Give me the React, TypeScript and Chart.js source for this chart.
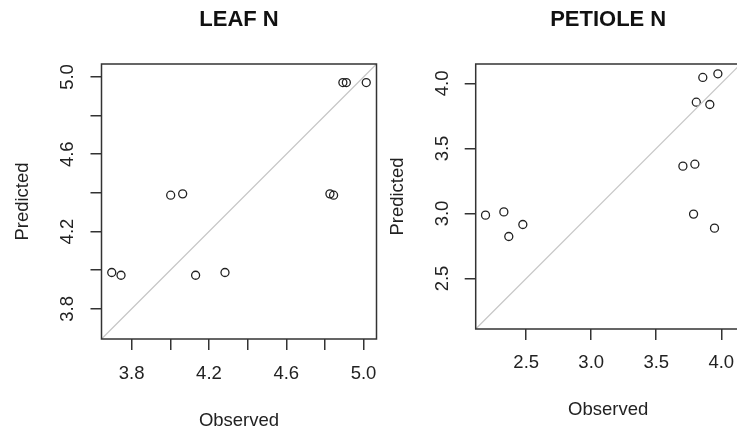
import { useEffect, useRef } from "react";
import { Chart, registerables } from "chart.js";

Chart.register(...registerables);

// ---- data ----
const leafObserved = [3.697, 3.745, 4.002, 4.064, 4.131, 4.283, 4.826, 4.845, 4.893, 4.911, 5.014];
const leafPredicted = [3.988, 3.974, 4.388, 4.395, 3.974, 3.988, 4.395, 4.388, 4.971, 4.971, 4.971];
const leafTicks = [3.8, 4.0, 4.2, 4.4, 4.6, 4.8, 5.0];
const leafTickLabels = ["3.8", "", "4.2", "", "4.6", "", "5.0"];
const leafRange = [3.644, 5.067];

const petioleObserved = [2.187, 2.328, 2.366, 2.474, 3.705, 3.797, 3.787, 3.948, 3.808, 3.912, 3.858, 3.974];
const petiolePredicted = [2.987, 3.012, 2.823, 2.915, 3.364, 3.379, 2.995, 2.887, 3.856, 3.838, 4.046, 4.074];
const petioleTicks = [2.5, 3.0, 3.5, 4.0];
const petioleTickLabels = ["2.5", "3.0", "3.5", "4.0"];
const petioleRange = [2.1115, 4.1495];

const FONT = "'Liberation Sans', Arial, Helvetica, sans-serif";
const TEXT = "#222";
const INK = "#333";

const boxPlugin = {
  id: "rbox",
  afterDatasetsDraw(chart: any) {
    const { ctx, chartArea: a } = chart;
    ctx.save();
    ctx.strokeStyle = INK;
    ctx.lineWidth = 1.5;
    ctx.strokeRect(a.left, a.top, a.right - a.left, a.bottom - a.top);
    ctx.restore();
  },
};

type Panel = {
  title: string;
  obs: number[];
  pred: number[];
  ticks: number[];
  labels: string[];
  range: number[];
  canvasLeft: number;
  canvasWidth: number;
  areaLeft: number;
  areaRight: number;
  areaTop: number;
  areaBottom: number;
  titleCenterY: number;
  xTickPad: number;
  yTickPad: number;
  xTitlePad: number;
  yTitlePad: number;
};

const H = 432;

function makeScale(p: Panel, axis: "x" | "y") {
  const tickLabel = (value: number) => {
    const i = p.ticks.findIndex((t) => Math.abs(t - value) < 1e-6);
    return i >= 0 ? p.labels[i] : "";
  };
  const base: any = {
    type: "linear",
    min: p.range[0],
    max: p.range[1],
    afterBuildTicks: (s: any) => {
      s.ticks = p.ticks.map((v) => ({ value: v }));
    },
    grid: {
      display: true,
      drawOnChartArea: false,
      drawTicks: true,
      tickLength: 11,
      tickColor: INK,
      tickWidth: 1.5,
      lineWidth: 1.5,
      color: INK,
    },
    border: { display: false },
    title: {
      display: true,
      text: axis === "x" ? "Observed" : "Predicted",
      color: TEXT,
      font: { family: FONT, size: 18.5, weight: "normal" },
    },
    ticks: {
      autoSkip: false,
      color: TEXT,
      font: { family: FONT, size: 18.5 },
      callback: (v: any) => tickLabel(Number(v)),
    },
  };
  if (axis === "x") {
    base.position = "bottom";
    base.ticks.maxRotation = 0;
    base.ticks.minRotation = 0;
    base.ticks.padding = p.xTickPad;
    base.title.padding = { top: 0, bottom: p.xTitlePad };
    base.afterFit = (s: any) => {
      s.height = H - p.areaBottom;
    };
  } else {
    base.position = "left";
    base.ticks.minRotation = 90;
    base.ticks.maxRotation = 90;
    base.ticks.crossAlign = "center";
    base.ticks.padding = p.yTickPad;
    base.title.padding = { top: p.yTitlePad, bottom: 0 };
    base.afterFit = (s: any) => {
      s.width = p.areaLeft - p.canvasLeft;
    };
  }
  return base;
}

function makeConfig(p: Panel): any {
  const titleLH = 22 * 1.2;
  const tPadTop = p.titleCenterY - titleLH / 2;
  const tPadBottom = p.areaTop - tPadTop - titleLH;
  return {
    type: "scatter",
    data: {
      datasets: [
        {
          type: "line",
          data: [
            { x: p.range[0], y: p.range[0] },
            { x: p.range[1], y: p.range[1] },
          ],
          borderColor: "#c6c6c6",
          borderWidth: 1.2,
          pointRadius: 0,
          showLine: true,
          fill: false,
        },
        {
          type: "scatter",
          data: p.obs.map((x, i) => ({ x, y: p.pred[i] })),
          pointStyle: "circle",
          pointRadius: 4,
          pointBorderWidth: 1.3,
          borderColor: "#222",
          backgroundColor: "rgba(0,0,0,0)",
          pointBackgroundColor: "rgba(0,0,0,0)",
          pointBorderColor: "#222",
        },
      ],
    },
    options: {
      responsive: false,
      animation: false,
      events: [],
      layout: {
        padding: {
          left: 0,
          top: 0,
          bottom: 0,
          right: p.canvasLeft + p.canvasWidth - p.areaRight,
        },
      },
      plugins: {
        legend: { display: false },
        tooltip: { enabled: false },
        title: {
          display: true,
          text: p.title,
          fullSize: false,
          color: "#111",
          font: { family: FONT, size: 22, weight: "bold", lineHeight: 1.2 },
          padding: { top: tPadTop, bottom: tPadBottom },
        },
      },
      scales: {
        x: makeScale(p, "x"),
        y: makeScale(p, "y"),
      },
    },
    plugins: [boxPlugin],
  };
}

const leafPanel: Panel = {
  title: "LEAF N",
  obs: leafObserved,
  pred: leafPredicted,
  ticks: leafTicks,
  labels: leafTickLabels,
  range: leafRange,
  canvasLeft: 0,
  canvasWidth: 400,
  areaLeft: 101.5,
  areaRight: 376.5,
  areaTop: 64,
  areaBottom: 339,
  titleCenterY: 19.5,
  xTickPad: 12.6,
  yTickPad: 10.1,
  xTitlePad: 0.1,
  yTitlePad: 11.6,
};

const petiolePanel: Panel = {
  title: "PETIOLE N",
  obs: petioleObserved,
  pred: petiolePredicted,
  ticks: petioleTicks,
  labels: petioleTickLabels,
  range: petioleRange,
  canvasLeft: 370,
  canvasWidth: 400,
  areaLeft: 475.7,
  areaRight: 740.7,
  areaTop: 64,
  areaBottom: 329,
  titleCenterY: 20,
  xTickPad: 11.6,
  yTickPad: 9.3,
  xTitlePad: 11.1,
  yTitlePad: 17.1,
};

function PanelChart({ panel }: { panel: Panel }) {
  const ref = useRef<HTMLCanvasElement | null>(null);
  useEffect(() => {
    if (!ref.current) return;
    const chart = new Chart(ref.current, makeConfig(panel));
    return () => chart.destroy();
  }, [panel]);
  return (
    <canvas
      ref={ref}
      width={panel.canvasWidth}
      height={H}
      style={{
        position: "absolute",
        left: panel.canvasLeft,
        top: 0,
        width: panel.canvasWidth,
        height: H,
      }}
    />
  );
}

export default function App() {
  return (
    <div
      style={{
        position: "fixed",
        left: 0,
        top: 0,
        width: 737,
        height: H,
        overflow: "hidden",
        background: "#fff",
      }}
    >
      <PanelChart panel={leafPanel} />
      <PanelChart panel={petiolePanel} />
    </div>
  );
}
